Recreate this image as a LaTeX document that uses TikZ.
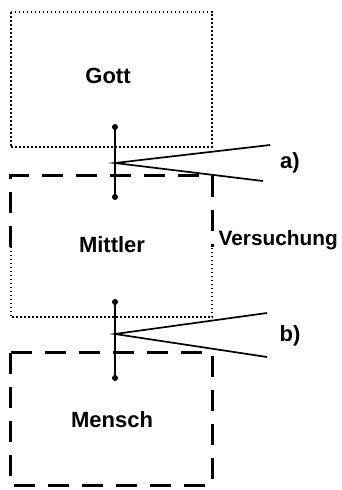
\documentclass[tikz,border=0pt]{standalone}
\usepackage{fontspec}
\setmainfont{Liberation Sans}
\usetikzlibrary{calc}
\begin{document}
\begin{tikzpicture}[x=1pt,y=-1pt,
  box/.style={draw=none,rectangle,minimum width=201pt,inner sep=0pt},
  dotline/.style={line width=1.9pt,dash pattern=on 1.8pt off 2.2pt},
  dashline/.style={line width=2.8pt,dash pattern=on 21pt off 13pt},
  lbl/.style={font=\fontsize{22}{26}\selectfont\bfseries,inner sep=0pt},
  bar/.style={line width=2pt},
  ray/.style={line width=1.7pt},
  tip/.style={circle,fill=black,inner sep=0pt,minimum size=6pt}]
\useasboundingbox (0,0) rectangle (342,490);
% boxes
\node[box,minimum height=135pt] (gott) at (111.5,79.5) {};
\node[box,minimum height=141pt] (mittler) at (111.5,246.5) {};
\node[box,minimum height=132pt] (mensch) at (111.5,419) {};
\draw[dotline] (gott.north west) rectangle (gott.south east);
\draw[dashline] (mittler.west) -- (mittler.north west) -- (mittler.north east) -- (mittler.east);
\draw[dotline] (mittler.west) -- (mittler.south west) -- (mittler.south east) -- (mittler.east);
\draw[dashline] (mensch.north west) rectangle (mensch.south east);
% texts
\node[lbl] (tgott) at (108,76) {Gott};
\node[lbl] (tmittler) at (112,245) {Mittler};
\node[lbl] (tmensch) at (112,420) {Mensch};
\node[lbl,font=\fontsize{20.8}{24}\selectfont\bfseries,anchor=west] (versuchung) at (218.5,240) {Versuchung};
\node[lbl] (la) at (290,163) {a)};
\node[lbl] (lb) at (290,336) {b)};
% bar a
\node[tip] (atop) at (115,127) {};
\node[tip] (abot) at (115,197) {};
\coordinate (aapex) at (115,163);
\coordinate (aup) at (270,145);
\coordinate (adown) at (263,181);
\draw[bar] (atop.center) -- (abot.center);
\draw[ray] (aup) -- (aapex) -- (adown);
% bar b
\node[tip] (btop) at (115,302) {};
\node[tip] (bbot) at (115,378) {};
\coordinate (bapex) at (115,334);
\coordinate (bup) at (267,313);
\coordinate (bdown) at (267,357);
\draw[bar] (btop.center) -- (bbot.center);
\draw[ray] (bup) -- (bapex) -- (bdown);
\end{tikzpicture}
\end{document}
